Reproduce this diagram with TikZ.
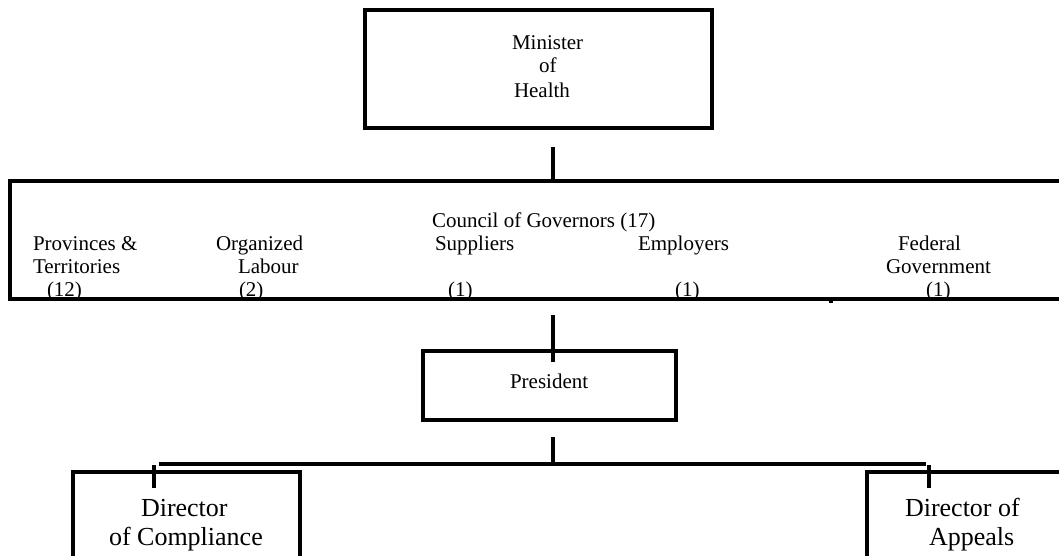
\documentclass[tikz,border=0pt]{standalone}
\usepackage{fontspec}
\setmainfont{Liberation Serif}
\begin{document}
\begin{tikzpicture}[x=1pt,y=-1pt,line width=4pt,
  lbl/.style={anchor=base west,inner sep=0pt,font=\fontsize{21}{24}\selectfont},
  big/.style={anchor=base west,inner sep=0pt,font=\fontsize{26}{30}\selectfont},
  box/.style={draw,line width=4pt,inner sep=0pt},
  conn/.style={draw,line width=4pt}]
\useasboundingbox (0,0) rectangle (1059,556);
\clip (0,0) rectangle (1059,556);
% Minister box
\node[box,minimum width=347pt,minimum height=118pt] (minister) at (538.5,69) {};
\node[lbl] (min1) at (510,50) {Minister};
\node[lbl] (min2) at (537,73) {of};
\node[lbl] (min3) at (512,98) {Health};
% Council box (open on the right)
\draw (1065,181) -| (10,299) -- (1065,299);
\coordinate (cmark1) at (831,299);
\coordinate (cmark2) at (831,303);
\draw (cmark1) -- (cmark2);
\node[lbl] (council) at (430,227) {Council of Governors (17)};
\node[lbl] (prov1) at (31,250) {Provinces \&};
\node[lbl] (prov2) at (31,273) {Territories};
\node[lbl] (prov3) at (45,296) {(12)};
\node[lbl] (lab1) at (214,250) {Organized};
\node[lbl] (lab2) at (236,273) {Labour};
\node[lbl] (lab3) at (237,296) {(2)};
\node[lbl] (sup1) at (433,250) {Suppliers};
\node[lbl] (sup3) at (446,296) {(1)};
\node[lbl] (emp1) at (636,250) {Employers};
\node[lbl] (emp3) at (673,296) {(1)};
\node[lbl] (fed1) at (896,250) {Federal};
\node[lbl] (fed2) at (884,273) {Government};
\node[lbl] (fed3) at (924,296) {(1)};
% President box
\node[box,minimum width=253pt,minimum height=69pt] (president) at (549.5,385.5) {};
\node[lbl] (pres) at (508,388) {President};
% Director boxes (open at the bottom / right)
\draw (73,560) |- (300,472) -- (300,560);
\draw (867,560) |- (1065,472);
\node[big] (comp1) at (139,516) {Director};
\node[big] (comp2) at (107,545) {of Compliance};
\node[big] (app1) at (903,516) {Director of};
\node[big] (app2) at (927,545) {Appeals};
% connectors
\coordinate (a1) at (553,147);
\coordinate (a2) at (553,183);
\coordinate (b1) at (553,315);
\coordinate (b2) at (553,362);
\coordinate (c1) at (553,437);
\coordinate (c2) at (553,464);
\coordinate (hl) at (159,464);
\coordinate (hr) at (926,464);
\coordinate (tl1) at (154,465);
\coordinate (tl2) at (154,488);
\coordinate (tr1) at (929,465);
\coordinate (tr2) at (929,488);
\draw (a1) -- (a2);
\draw (b1) -- (b2);
\draw (c1) -- (c2);
\draw (hl) -- (hr);
\draw (tl1) -- (tl2);
\draw (tr1) -- (tr2);
\end{tikzpicture}
\end{document}
